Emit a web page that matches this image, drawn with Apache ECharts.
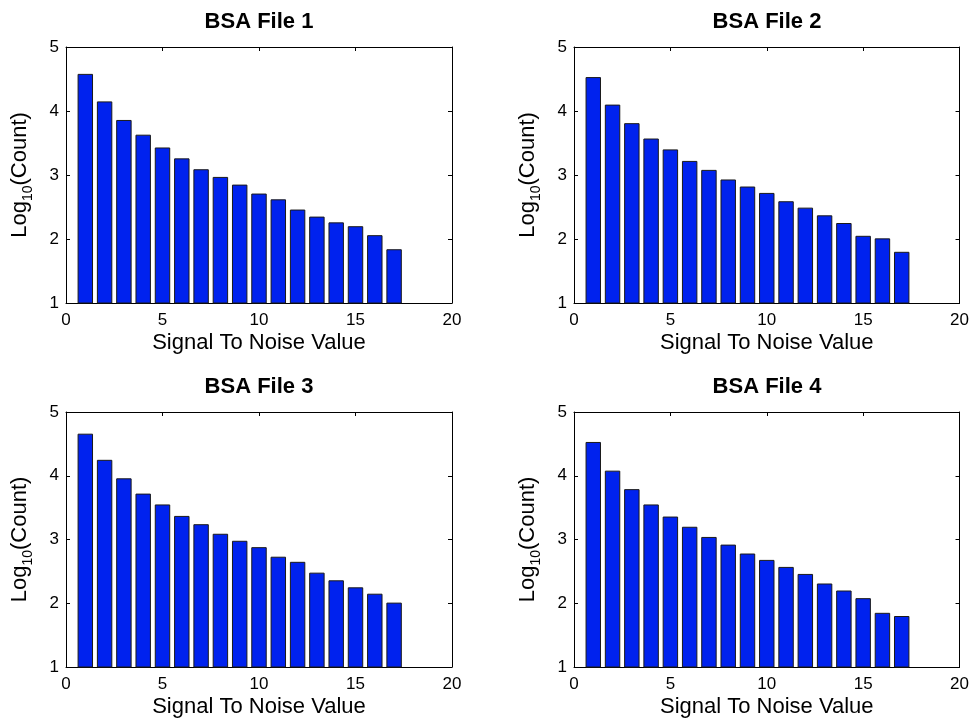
<!DOCTYPE html>
<html>
<head>
<meta charset="utf-8">
<script src="https://cdn.jsdelivr.net/npm/echarts@6/dist/echarts.min.js"></script>
<style>
html,body{margin:0;padding:0;background:#fff;}
#main{width:972px;height:719px;}
</style>
</head>
<body>
<div id="main"></div>
<script>
// ---- data ----
var snr = [1,2,3,4,5,6,7,8,9,10,11,12,13,14,15,16,17];
var file1 = [4.58,4.15,3.86,3.63,3.43,3.26,3.09,2.97,2.85,2.71,2.62,2.46,2.35,2.26,2.20,2.06,1.84];
var file2 = [4.53,4.10,3.81,3.57,3.40,3.22,3.08,2.93,2.82,2.72,2.59,2.49,2.37,2.25,2.05,2.01,1.80];
var file3 = [4.66,4.25,3.96,3.72,3.55,3.37,3.24,3.09,2.98,2.88,2.73,2.65,2.48,2.36,2.25,2.15,2.01];
var file4 = [4.53,4.08,3.79,3.55,3.36,3.20,3.04,2.92,2.78,2.68,2.57,2.46,2.31,2.20,2.08,1.85,1.80];
var titles = ['BSA File 1','BSA File 2','BSA File 3','BSA File 4'];
var xName = 'Signal To Noise Value';
var xMin = 0, xMax = 20, xStep = 5;
var yMin = 1, yMax = 5, yStep = 1;

// ---- layout ----
var FONT = 'Liberation Sans, Arial, Helvetica, sans-serif';
var grids = [
  {left:66, top:47, width:386, height:256},
  {left:574, top:47, width:386, height:256},
  {left:66, top:412, width:386, height:256},
  {left:574, top:412, width:386, height:256}
];
var allData = [file1, file2, file3, file4];

var option = {
  backgroundColor:'#fff',
  animation:false,
  title:[], grid:[], xAxis:[], yAxis:[], series:[]
};

grids.forEach(function(g, i){
  option.grid.push({left:g.left, top:g.top, width:g.width, height:g.height, show:false, containLabel:false});
  option.title.push({
    text: titles[i], left: g.left + g.width/2, top: g.top - 36, textAlign:'center', padding:0,
    textStyle:{fontFamily:FONT, fontSize:22, fontWeight:'bold', color:'#000'}
  });
  var lineStyle = {color:'#000', width:1};
  // bottom x axis
  option.xAxis.push({
    type:'value', gridIndex:i, min:xMin, max:xMax, interval:xStep, position:'bottom',
    name:xName, nameLocation:'middle', nameGap:29,
    nameTextStyle:{fontFamily:FONT, fontSize:22, color:'#000'},
    axisLine:{show:true, onZero:false, lineStyle:lineStyle},
    axisTick:{show:true, inside:true, length:4, lineStyle:lineStyle},
    axisLabel:{fontFamily:FONT, fontSize:17, color:'#000', margin:9},
    splitLine:{show:false}
  });
  // top x axis (box + ticks)
  option.xAxis.push({
    type:'value', gridIndex:i, min:xMin, max:xMax, interval:xStep, position:'top',
    axisLine:{show:true, onZero:false, lineStyle:lineStyle},
    axisTick:{show:true, inside:true, length:4, lineStyle:lineStyle},
    axisLabel:{show:false}, splitLine:{show:false}
  });
  // left y axis
  option.yAxis.push({
    type:'value', gridIndex:i, min:yMin, max:yMax, interval:yStep, position:'left',
    name:'{n|Log}{s|10}{n|(Count)}', nameLocation:'middle', nameGap:31, nameRotate:90,
    nameTextStyle:{
      fontFamily:FONT, fontSize:22, color:'#000',
      rich:{
        n:{fontFamily:FONT, fontSize:22, color:'#000', lineHeight:26, verticalAlign:'top'},
        s:{fontFamily:FONT, fontSize:14, color:'#000', lineHeight:16, verticalAlign:'bottom'}
      }
    },
    axisLine:{show:true, onZero:false, lineStyle:lineStyle},
    axisTick:{show:true, inside:true, length:4, lineStyle:lineStyle},
    axisLabel:{fontFamily:FONT, fontSize:17, color:'#000', margin:7},
    splitLine:{show:false}
  });
  // right y axis
  option.yAxis.push({
    type:'value', gridIndex:i, min:yMin, max:yMax, interval:yStep, position:'right',
    axisLine:{show:true, onZero:false, lineStyle:lineStyle},
    axisTick:{show:true, inside:true, length:4, lineStyle:lineStyle},
    axisLabel:{show:false}, splitLine:{show:false}
  });
  var pts = snr.map(function(x, k){ return [x, allData[i][k]]; });
  option.series.push({
    type:'bar', xAxisIndex:i*2, yAxisIndex:i*2, data:pts,
    barWidth: g.width/(xMax-xMin)*0.8,
    itemStyle:{color:'#0022ee', borderColor:'#1a1a1a', borderWidth:1},
    clip:true
  });
});

var chart = echarts.init(document.getElementById('main'), null, {renderer:'canvas'});
chart.setOption(option);
</script>
</body>
</html>
